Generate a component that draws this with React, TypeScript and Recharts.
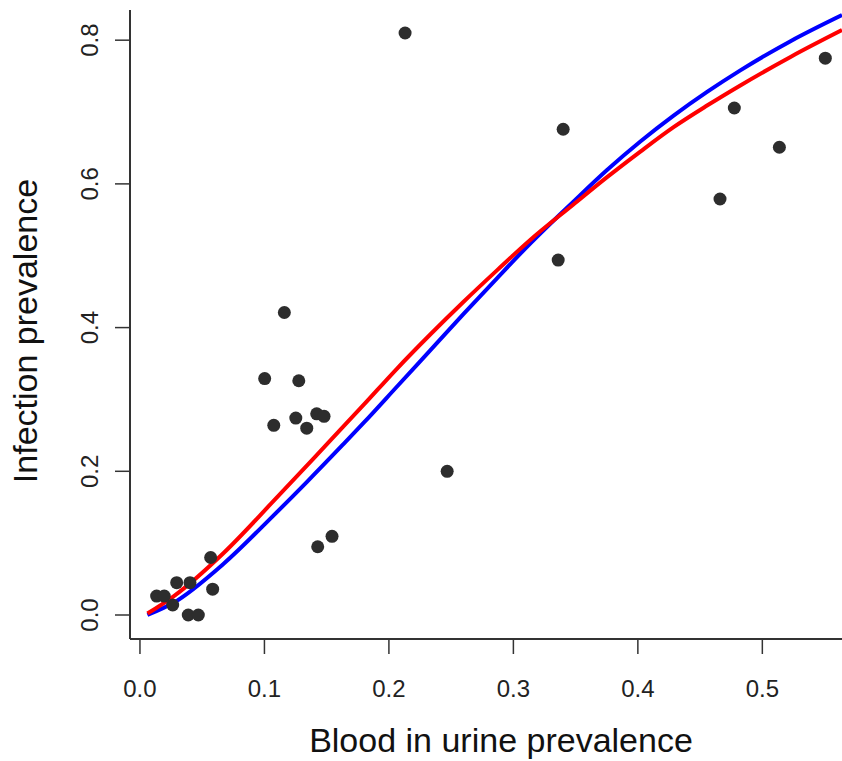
import React from "react";
import { ComposedChart, XAxis, YAxis, Scatter, Line } from "recharts";

const X_TICKS = [0, 0.1, 0.2, 0.3, 0.4, 0.5];
const Y_TICKS = [0, 0.2, 0.4, 0.6, 0.8];
const X_DOMAIN = [-0.008, 0.564];
const Y_DOMAIN = [-0.0334, 0.842];

const observed = [
  { x: 0.0134, y: 0.0264 },
  { x: 0.0195, y: 0.0264 },
  { x: 0.0263, y: 0.0139 },
  { x: 0.0295, y: 0.045 },
  { x: 0.0402, y: 0.045 },
  { x: 0.0388, y: 0.0 },
  { x: 0.0469, y: 0.0 },
  { x: 0.0568, y: 0.08 },
  { x: 0.0584, y: 0.036 },
  { x: 0.1002, y: 0.329 },
  { x: 0.1075, y: 0.264 },
  { x: 0.116, y: 0.421 },
  { x: 0.1252, y: 0.274 },
  { x: 0.1276, y: 0.326 },
  { x: 0.134, y: 0.26 },
  { x: 0.142, y: 0.28 },
  { x: 0.1479, y: 0.2765 },
  { x: 0.1428, y: 0.095 },
  { x: 0.1543, y: 0.1095 },
  { x: 0.213, y: 0.81 },
  { x: 0.2468, y: 0.2 },
  { x: 0.336, y: 0.494 },
  { x: 0.34, y: 0.676 },
  { x: 0.466, y: 0.579 },
  { x: 0.4775, y: 0.7056 },
  { x: 0.5137, y: 0.651 },
  { x: 0.5506, y: 0.775 },
];

const redCurve = [
  { x: 0.006, y: 0.002 },
  { x: 0.027, y: 0.026 },
  { x: 0.067, y: 0.086 },
  { x: 0.107, y: 0.158 },
  { x: 0.153, y: 0.243 },
  { x: 0.18, y: 0.293 },
  { x: 0.206, y: 0.342 },
  { x: 0.233, y: 0.39 },
  { x: 0.26, y: 0.436 },
  { x: 0.287, y: 0.48 },
  { x: 0.3135, y: 0.522 },
  { x: 0.348, y: 0.571 },
  { x: 0.375, y: 0.609 },
  { x: 0.402, y: 0.645 },
  { x: 0.4287, y: 0.679 },
  { x: 0.4556, y: 0.709 },
  { x: 0.4823, y: 0.737 },
  { x: 0.523, y: 0.777 },
  { x: 0.564, y: 0.814 },
];

const blueCurve = [
  { x: 0.006, y: 0.0 },
  { x: 0.027, y: 0.017 },
  { x: 0.067, y: 0.071 },
  { x: 0.107, y: 0.138 },
  { x: 0.134, y: 0.185 },
  { x: 0.163, y: 0.237 },
  { x: 0.18, y: 0.268 },
  { x: 0.206, y: 0.317 },
  { x: 0.233, y: 0.368 },
  { x: 0.26, y: 0.419 },
  { x: 0.287, y: 0.469 },
  { x: 0.3135, y: 0.517 },
  { x: 0.348, y: 0.575 },
  { x: 0.375, y: 0.619 },
  { x: 0.402, y: 0.659 },
  { x: 0.4287, y: 0.695 },
  { x: 0.4556, y: 0.728 },
  { x: 0.4823, y: 0.758 },
  { x: 0.523, y: 0.799 },
  { x: 0.564, y: 0.835 },
];

const FONT = "'Liberation Sans', Arial, sans-serif";
const AXIS_COLOR = "#333";

const XTick = (props: any) => {
  const { x, y, payload } = props;
  return (
    <text x={x} y={y + 41} textAnchor="middle" fontFamily={FONT} fontSize={24} fill="#222">
      {Number(payload.value).toFixed(1)}
    </text>
  );
};

const YTick = (props: any) => {
  const { x, y, payload } = props;
  return (
    <text
      x={0}
      y={0}
      transform={`translate(${x - 15},${y}) rotate(-90)`}
      textAnchor="middle"
      fontFamily={FONT}
      fontSize={24}
      fill="#222"
    >
      {Number(payload.value).toFixed(1)}
    </text>
  );
};

const Dot = (props: any) => <circle cx={props.cx} cy={props.cy} r={6.5} fill="#2d2d2d" />;

export default function App() {
  return (
    <div style={{ position: "absolute", left: 0, top: 0, width: 842, height: 761, overflow: "hidden" }}>
      <ComposedChart width={842} height={761} margin={{ top: 10, right: 0, bottom: 0, left: 0 }}>
        <XAxis
          xAxisId="top"
          orientation="top"
          type="number"
          domain={X_DOMAIN}
          height={0}
          tick={false}
          tickLine={false}
          axisLine={{ stroke: AXIS_COLOR, strokeWidth: 2 }}
        />
        <XAxis
          dataKey="x"
          type="number"
          domain={X_DOMAIN}
          ticks={X_TICKS}
          allowDataOverflow
          height={122}
          tickSize={15}
          tickMargin={2}
          tick={<XTick />}
          tickLine={{ stroke: AXIS_COLOR, strokeWidth: 1.5 }}
          axisLine={{ stroke: AXIS_COLOR, strokeWidth: 2 }}
        />
        <YAxis
          type="number"
          domain={Y_DOMAIN}
          ticks={Y_TICKS}
          allowDataOverflow
          width={130}
          tickSize={15}
          tickMargin={2}
          tick={<YTick />}
          tickLine={{ stroke: AXIS_COLOR, strokeWidth: 1.5 }}
          axisLine={{ stroke: AXIS_COLOR, strokeWidth: 2 }}
        />
        <Scatter data={observed} dataKey="y" shape={<Dot />} isAnimationActive={false} />
        <Line
          data={blueCurve}
          dataKey="y"
          type="monotone"
          stroke="#0000ff"
          strokeWidth={4}
          dot={false}
          activeDot={false}
          isAnimationActive={false}
        />
        <Line
          data={redCurve}
          dataKey="y"
          type="monotone"
          stroke="#ff0000"
          strokeWidth={4}
          dot={false}
          activeDot={false}
          isAnimationActive={false}
        />
      </ComposedChart>
      <svg
        width={842}
        height={761}
        style={{ position: "absolute", left: 0, top: 0, pointerEvents: "none" }}
      >
        <text x={501} y={752} textAnchor="middle" fontFamily={FONT} fontSize={34} fill="#111">
          Blood in urine prevalence
        </text>
        <text
          x={0}
          y={0}
          transform="translate(37,331) rotate(-90)"
          textAnchor="middle"
          fontFamily={FONT}
          fontSize={34}
          fill="#111"
        >
          Infection prevalence
        </text>
      </svg>
    </div>
  );
}
